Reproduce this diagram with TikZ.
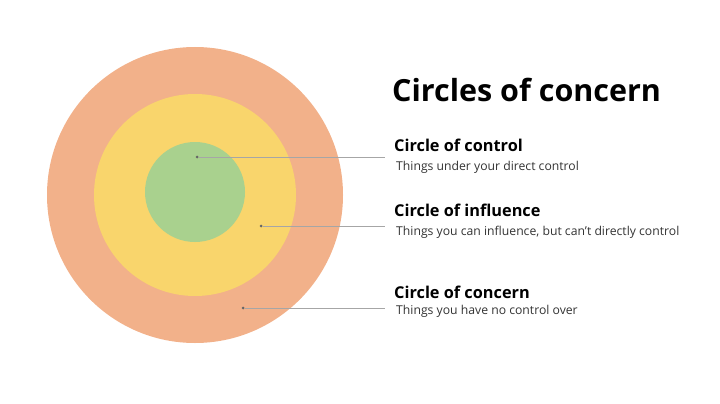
\documentclass[tikz,border=0pt]{standalone}
\usepackage{fontspec}
\setmainfont{Open Sans}
\definecolor{corange}{HTML}{F2B18A}
\definecolor{cyellow}{HTML}{F9D56C}
\definecolor{cgreen}{HTML}{A9D18E}
\definecolor{cline}{HTML}{A6A6A6}
\tikzset{dot/.style={circle,fill=black!60,inner sep=0pt,minimum size=3pt},
 head/.style={anchor=west,font=\fontsize{16.3}{19}\selectfont\bfseries,inner sep=0pt},
 sub/.style={anchor=west,font=\fontsize{12.2}{14}\selectfont,text=black!80,inner sep=0pt},
 lead/.style={cline,line width=0.6pt}}
\begin{document}
\begin{tikzpicture}[x=1pt,y=-1pt]
\useasboundingbox (0,0) rectangle (720,404);
\fill[corange] (195,195) circle (148);
\fill[cyellow] (195,195) circle (101);
\fill[cgreen] (195,192) circle (50);
\node[anchor=west,inner sep=0pt,font=\fontsize{30.5}{34}\selectfont\bfseries] (title) at (392,90) {Circles of concern};
\node[head] (h1) at (394,145) {Circle of control};
\node[sub] (s1) at (396,167) {Things under your direct control};
\node[head] (h2) at (394,210) {Circle of influence};
\node[sub] (s2) at (396,232) {Things you can influence, but can't directly control};
\node[head] (h3) at (394,292) {Circle of concern};
\node[sub] (s3) at (396,311) {Things you have no control over};
\node[dot] (d1) at (197,157) {};
\node[dot] (d2) at (261,226) {};
\node[dot] (d3) at (243,308) {};
\coordinate (e1) at (385,157);
\coordinate (e2) at (385,226);
\coordinate (e3) at (385,308);
\draw[lead] (d1) -- (e1);
\draw[lead] (d2) -- (e2);
\draw[lead] (d3) -- (e3);
\end{tikzpicture}
\end{document}
